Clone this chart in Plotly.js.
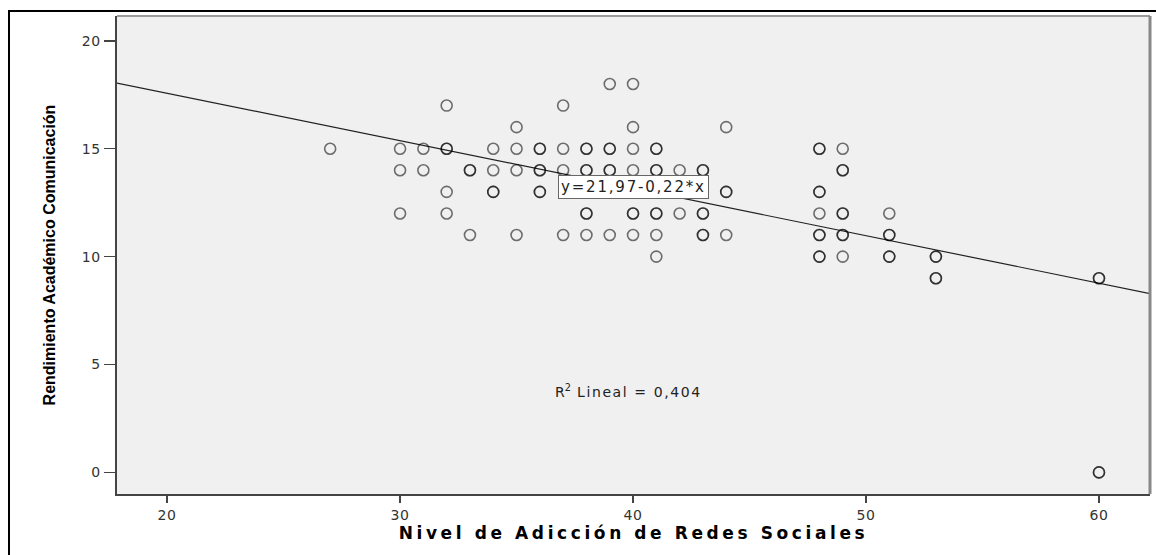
<!DOCTYPE html>
<html>
<head>
<meta charset="utf-8">
<script src="https://cdn.plot.ly/plotly-3.0.1.min.js"></script>
<style>
  html, body { margin: 0; padding: 0; background: #ffffff; }
  #chart { width: 1156px; height: 555px; }
  .xtick text, .ytick text { letter-spacing: 0.6px; }
</style>
</head>
<body>
<div id="chart"></div>
<script>
// ---- Data ----
// Each observation position (x = Nivel de Adicción, y = Rendimiento) and how many
// students share that exact position (overlapping circles look darker).
const pointX = [39, 40,
  32, 37,
  35, 40, 44,
  27, 30, 31, 32, 34, 35, 36, 37, 38, 39, 40, 41, 48, 49,
  30, 31, 33, 34, 35, 36, 37, 38, 39, 40, 41, 42, 43, 49,
  32, 34, 36, 44, 48,
  30, 32, 38, 40, 41, 42, 43, 48, 49, 51,
  33, 35, 37, 38, 39, 40, 41, 43, 44, 48, 49, 51,
  41, 48, 49, 51, 53,
  53, 60,
  60];
const pointY = [18, 18,
  17, 17,
  16, 16, 16,
  15, 15, 15, 15, 15, 15, 15, 15, 15, 15, 15, 15, 15, 15,
  14, 14, 14, 14, 14, 14, 14, 14, 14, 14, 14, 14, 14, 14,
  13, 13, 13, 13, 13,
  12, 12, 12, 12, 12, 12, 12, 12, 12, 12,
  11, 11, 11, 11, 11, 11, 11, 11, 11, 11, 11, 11,
  10, 10, 10, 10, 10,
  9, 9,
  0];
const pointCount = [1, 1,
  1, 1,
  1, 1, 1,
  1, 1, 1, 2, 1, 1, 2, 1, 2, 2, 1, 2, 2, 1,
  1, 1, 2, 1, 1, 2, 1, 2, 2, 1, 2, 1, 2, 2,
  1, 2, 2, 2, 2,
  1, 1, 2, 2, 2, 1, 2, 1, 2, 1,
  1, 1, 1, 1, 1, 1, 1, 2, 1, 2, 2, 2,
  1, 2, 1, 2, 2,
  2, 2,
  2];

// Linear fit shown on the chart
const fitIntercept = 21.97;
const fitSlope = -0.22;
const fitLabel = 'y=21,97-0,22*x';
const r2Label = '0,404';

const xTickVals = [20, 30, 40, 50, 60];
const yTickVals = [0, 5, 10, 15, 20];
const xTitle = 'Nivel de Adicción de Redes Sociales';
const yTitle = 'Rendimiento Académico Comunicación';

// ---- Build traces ----
const xs = [], ys = [];
pointX.forEach((x, i) => {
  for (let k = 0; k < pointCount[i]; k++) { xs.push(x); ys.push(pointY[i]); }
});

const xRange = [17.85, 62.19];
const yRange = [-1.0, 21.15];

const fitX = [xRange[0], xRange[1]];
const fitY = fitX.map(x => fitIntercept + fitSlope * x);

const scatter = {
  type: 'scatter', mode: 'markers', x: xs, y: ys,
  marker: { symbol: 'circle-open', size: 11, color: 'rgba(0,0,0,0.55)', line: { width: 1.6 } },
  hoverinfo: 'skip', showlegend: false
};
const fitLine = {
  type: 'scatter', mode: 'lines', x: fitX, y: fitY,
  line: { color: '#222222', width: 1.2 },
  hoverinfo: 'skip', showlegend: false
};

// pixel helpers for paper-referenced decorations
const L = 117, R = 6, T = 16, B = 61, W = 1156, H = 555;
const pw = W - L - R, ph = H - T - B;
const px = p => (p - L) / pw;
const py = q => (H - B - q) / ph;

const layout = {
  width: W, height: H,
  margin: { l: L, r: R, t: T, b: B, pad: 0 },
  paper_bgcolor: '#ffffff',
  plot_bgcolor: '#f0f0f0',
  font: { family: 'DejaVu Sans, Arial, sans-serif', color: '#333333' },
  xaxis: {
    range: xRange, tickvals: xTickVals, ticktext: xTickVals.map(String),
    showgrid: false, zeroline: false,
    showline: true, linecolor: '#444444', linewidth: 2,
    ticks: 'outside', ticklen: 7, tickwidth: 2, tickcolor: '#444444',
    tickfont: { family: 'DejaVu Sans, sans-serif', size: 14, color: '#333333' },
    title: {
      text: '<span style="letter-spacing:3.6px">' + xTitle + '</span>',
      font: { family: 'DejaVu Sans, sans-serif', size: 17, color: '#000000', weight: 'bold' },
      standoff: 1
    }
  },
  yaxis: {
    range: yRange, tickvals: yTickVals, ticktext: yTickVals.map(String),
    showgrid: false, zeroline: false,
    showline: true, linecolor: '#444444', linewidth: 2.5,
    ticks: 'outside', ticklen: 11, tickwidth: 1.5, tickcolor: '#444444',
    tickfont: { family: 'DejaVu Sans, sans-serif', size: 14, color: '#333333' },
    title: {
      text: yTitle,
      font: { family: 'Liberation Sans, Arial, sans-serif', size: 16, color: '#000000', weight: 'bold' },
      standoff: 22
    }
  },
  shapes: [
    // plot-area top and right border
    { type: 'line', xref: 'paper', yref: 'paper', x0: 0, x1: 1, y0: 1, y1: 1, line: { color: '#9a9a9a', width: 2 } },
    { type: 'line', xref: 'paper', yref: 'paper', x0: 1, x1: 1, y0: 0, y1: 1, line: { color: '#888888', width: 3 } },
    // outer frame (top and left)
    { type: 'line', xref: 'paper', yref: 'paper', x0: px(8), x1: px(1156), y0: py(11), y1: py(11), line: { color: '#000000', width: 2 } },
    { type: 'line', xref: 'paper', yref: 'paper', x0: px(9), x1: px(9), y0: py(10), y1: py(555), line: { color: '#000000', width: 2 } }
  ],
  annotations: [
    {
      x: 40.0, y: 13.22, xref: 'x', yref: 'y', showarrow: false,
      xanchor: 'center', yanchor: 'middle',
      text: '<span style="letter-spacing:1.8px">' + fitLabel + '</span>',
      font: { family: 'DejaVu Sans, sans-serif', size: 15, color: '#222222' },
      bgcolor: '#ffffff', bordercolor: '#666666', borderwidth: 1, borderpad: 2
    },
    {
      x: 39.8, y: 3.77, xref: 'x', yref: 'y', showarrow: false,
      xanchor: 'center', yanchor: 'middle',
      text: 'R<sup>2</sup><span style="letter-spacing:1.6px"> Lineal = ' + r2Label + '</span>',
      font: { family: 'DejaVu Sans, sans-serif', size: 14, color: '#222222' }
    }
  ]
};

Plotly.newPlot('chart', [fitLine, scatter], layout, { staticPlot: true, displayModeBar: false });
</script>
</body>
</html>
